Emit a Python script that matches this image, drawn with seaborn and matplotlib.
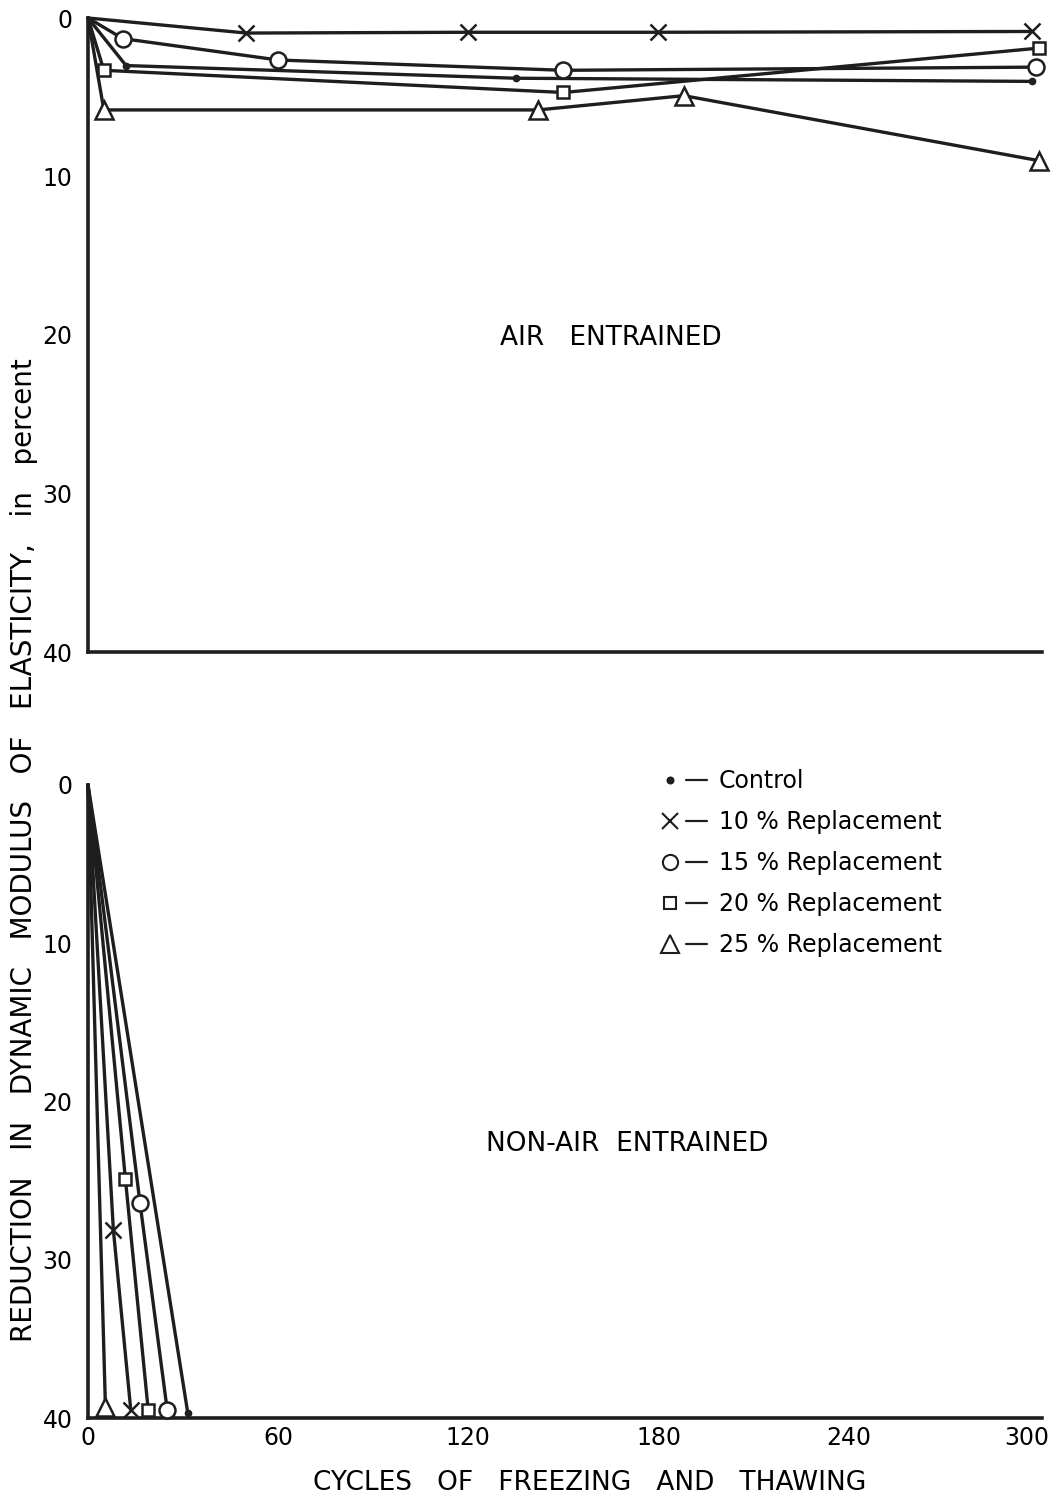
import matplotlib
matplotlib.use("Agg")
import matplotlib.pyplot as plt
import matplotlib.transforms as mtransforms
from matplotlib.lines import Line2D
from matplotlib.legend_handler import HandlerTuple
import pandas as pd
import seaborn as sns

# ---- data: reduction in dynamic modulus (%) vs. freeze-thaw cycles ----
series_names = ["Control", "10 % Replacement", "15 % Replacement",
                "20 % Replacement", "25 % Replacement"]

# air entrained
air_control_x = [0, 12, 135, 298]
air_control_y = [0, 3.0, 3.8, 4.0]
air_r10_x = [0, 50, 120, 180, 298]
air_r10_y = [0, 0.95, 0.9, 0.9, 0.85]
air_r15_x = [0, 11, 60, 150, 299]
air_r15_y = [0, 1.3, 2.65, 3.3, 3.1]
air_r20_x = [0, 5, 150, 300]
air_r20_y = [0, 3.3, 4.7, 1.9]
air_r25_x = [0, 5, 142, 188, 300]
air_r25_y = [0, 5.8, 5.8, 4.9, 9.0]

# non-air entrained
non_control_x = [0, 31.5]
non_control_y = [0, 39.7]
non_r10_x = [0, 8, 13.5]
non_r10_y = [0, 28.1, 39.5]
non_r15_x = [0, 16.4, 25]
non_r15_y = [0, 26.4, 39.5]
non_r20_x = [0, 11.8, 19]
non_r20_y = [0, 24.9, 39.5]
non_r25_x = [0, 5.5]
non_r25_y = [0, 39.3]

y_ticks = [0, 10, 20, 30, 40]
x_ticks = [0, 60, 120, 180, 240, 300]

air = {
    "Control": (air_control_x, air_control_y),
    "10 % Replacement": (air_r10_x, air_r10_y),
    "15 % Replacement": (air_r15_x, air_r15_y),
    "20 % Replacement": (air_r20_x, air_r20_y),
    "25 % Replacement": (air_r25_x, air_r25_y),
}
non_air = {
    "Control": (non_control_x, non_control_y),
    "10 % Replacement": (non_r10_x, non_r10_y),
    "15 % Replacement": (non_r15_x, non_r15_y),
    "20 % Replacement": (non_r20_x, non_r20_y),
    "25 % Replacement": (non_r25_x, non_r25_y),
}

# marker styles per series
marker_style = {
    "Control": dict(marker="o", markersize=4.5, mfc="#222222", mew=1.0),
    "10 % Replacement": dict(marker="x", markersize=12, mfc="none", mew=1.8),
    "15 % Replacement": dict(marker="o", markersize=11.5, mfc="white", mew=1.8),
    "20 % Replacement": dict(marker="s", markersize=9, mfc="white", mew=1.8),
    "25 % Replacement": dict(marker="^", markersize=13, mfc="white", mew=1.8),
}

INK = "#1e1e1e"

sns.set_style("white")
plt.rcParams["font.family"] = ["DejaVu Sans"]
plt.rcParams["text.color"] = "black"

fig = plt.figure(figsize=(10.54, 15.06), dpi=100)
W, H = 1054, 1506
left, right = 88 / W, 1042 / W
ax1 = fig.add_axes([left, 1 - 652 / H, right - left, (652 - 18) / H])
ax2 = fig.add_axes([left, 1 - 1418 / H, right - left, (1418 - 785) / H])


def draw_panel(ax, data):
    for name in series_names:
        xs, ys = data[name]
        df = pd.DataFrame({"cycles": xs, "reduction": ys})
        sns.lineplot(data=df, x="cycles", y="reduction", ax=ax,
                     estimator=None, sort=False, color=INK, lw=2.4,
                     markevery=list(range(1, len(xs))), mec=INK,
                     clip_on=False, zorder=3, **marker_style[name])
    ax.set_xlim(0, 301)
    ax.set_ylim(40, 0)
    ax.set_yticks(y_ticks)
    ax.set_xticks(x_ticks)
    ax.set_xlabel("")
    ax.set_ylabel("")
    for s in ("top", "right"):
        ax.spines[s].set_visible(False)
    for s in ("left", "bottom"):
        ax.spines[s].set_color(INK)
        ax.spines[s].set_linewidth(2.6)
    ax.tick_params(axis="both", length=0, labelsize=17, colors="black")
    ax.tick_params(axis="y", pad=11)
    ax.tick_params(axis="x", pad=6)
    ax.set_facecolor("white")


draw_panel(ax1, air)
draw_panel(ax2, non_air)
ax1.set_xticklabels([])

# nudge the last cycle label inward so it stays on the sheet
last = ax2.get_xticklabels()[-1]
last.set_transform(last.get_transform() +
                   mtransforms.ScaledTranslation(-12 / 100, 0, fig.dpi_scale_trans))

ax1.text(165, 20.2, "AIR   ENTRAINED", ha="center", va="center", fontsize=19)
ax2.text(170, 22.7, "NON-AIR  ENTRAINED", ha="center", va="center", fontsize=19)

# legend: marker followed by a short dash
handles = []
for name in series_names:
    st = marker_style[name]
    mk = Line2D([], [], linestyle="none", color=INK, mec=INK,
                marker=st["marker"], markersize=st["markersize"] * 0.95,
                mfc=st["mfc"], mew=1.5)
    dash = Line2D([], [], color=INK, lw=1.6)
    handles.append((mk, dash))
ax2.legend(handles, series_names, handler_map={tuple: HandlerTuple(ndivide=None, pad=0.2)},
           loc="upper left", bbox_to_anchor=(0.577, 1.059), frameon=False,
           fontsize=17, handlelength=2.0, handletextpad=0.5, labelspacing=0.72)

fig.text(590 / W, 1 - 1483 / H, "CYCLES   OF   FREEZING   AND   THAWING",
         ha="center", va="center", fontsize=19)
fig.text(24 / W, 1 - 850 / H,
         "REDUCTION   IN   DYNAMIC   MODULUS   OF   ELASTICITY,   in   percent",
         ha="center", va="center", rotation=90, fontsize=20)

fig.savefig("out.png", dpi=100, facecolor="white")
